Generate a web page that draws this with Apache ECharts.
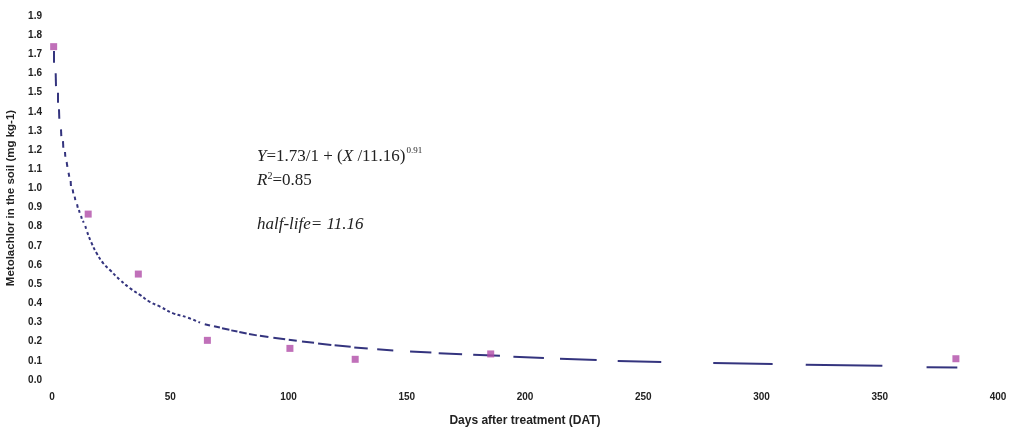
<!DOCTYPE html>
<html>
<head>
<meta charset="utf-8">
<script src="https://cdn.jsdelivr.net/npm/echarts@6/dist/echarts.min.js"></script>
<style>
html,body{margin:0;padding:0;background:#fff;}
#chart{width:1016px;height:428px;}
</style>
</head>
<body>
<div id="chart"></div>
<script>
// Observed data (days after treatment, mg kg-1)
const obsDays = [0.7, 15.3, 36.5, 65.7, 100.6, 128.2, 185.5, 382.2];
const obsValues = [1.74, 0.866, 0.553, 0.207, 0.165, 0.108, 0.136, 0.111];

// Fitted curve: head dashes [x1,y1,x2,y2]
const fitHeadDashes = [
  [0.55,1.717,0.55,1.656],[1.56,1.601,1.69,1.534],[2.24,1.499,2.41,1.447],
  [2.96,1.413,3.09,1.364],[3.81,1.308,3.93,1.273],[4.65,1.247,4.78,1.212],
  [5.50,1.190,5.62,1.165],[6.2,1.138,6.5,1.113],[7.0,1.082,7.3,1.061],
  [7.9,1.039,8.0,1.013],[8.75,0.995,9.0,0.974],[9.6,0.957,9.85,0.939],
  [10.6,0.917,10.9,0.899],[11.4,0.887,11.7,0.873],[12.3,0.856,12.6,0.842],
  [13.1,0.830,13.4,0.821],[14.1,0.804,14.4,0.790]
];
// Fitted curve middle part (dense short dashes)
const fitMidX = [14.9, 16.8, 18.9, 21.7, 24.5, 28.8, 33.0, 37.2, 41.4, 45.7, 51.3, 57.0, 62.6];
const fitMidY = [0.772, 0.713, 0.661, 0.609, 0.574, 0.522, 0.479, 0.444, 0.408, 0.383, 0.348, 0.327, 0.300];
// Fitted curve tail dashes [x1,y1,x2,y2]
const fitTailDashes = [
  [64.6,0.291,66.8,0.284],[68.5,0.281,71.0,0.274],[71.9,0.270,75.0,0.262],
  [75.8,0.259,78.4,0.253],[79.2,0.250,82.3,0.243],[83.3,0.240,86.6,0.233],
  [87.9,0.231,91.5,0.224],[93.6,0.221,98.6,0.213],[100.1,0.210,103.5,0.205],
  [105.7,0.201,110.8,0.194],[112.5,0.190,118.1,0.183],[119.5,0.181,126.3,0.173],
  [127.8,0.170,133.5,0.164],[137.5,0.160,144.3,0.154],[151.4,0.149,160.4,0.143],
  [163.5,0.140,173.4,0.134],[178.1,0.132,189.4,0.126],[195.1,0.121,208.0,0.115],
  [214.8,0.111,230.3,0.105],[239.2,0.099,257.6,0.094],[279.6,0.089,304.7,0.084],
  [318.7,0.080,351.1,0.075],[369.8,0.067,382.8,0.065]
];

const xTitle = 'Days after treatment (DAT)';
const yTitle = 'Metolachlor in the soil (mg kg-1)';

const lineColor = '#34347e';
const markColor = '#b04ca8';
const textColor = '#222';

const chart = echarts.init(document.getElementById('chart'), null, {renderer: 'canvas'});

const dashData = fitHeadDashes.concat(fitTailDashes).map(d => ({coords: [[d[0], d[1]], [d[2], d[3]]]}));

const serif = '"Liberation Serif", "Times New Roman", serif';

chart.setOption({
  animation: false,
  backgroundColor: '#fff',
  grid: {left: 52, right: 18, top: 16, bottom: 48, containLabel: false, outerBoundsMode: 'none'},
  xAxis: {
    type: 'value', min: 0, max: 400, interval: 50,
    axisLine: {show: false}, axisTick: {show: false}, splitLine: {show: false},
    axisLabel: {fontSize: 10, color: textColor, margin: 12, fontWeight: 'bold', fontFamily: 'Liberation Sans, Arial'},
    name: xTitle, nameLocation: 'middle', nameGap: 35,
    nameTextStyle: {fontSize: 12, fontWeight: 'bold', color: textColor, fontFamily: 'Liberation Sans, Arial'}
  },
  yAxis: {
    type: 'value', min: 0, max: 1.9, interval: 0.1,
    axisLine: {show: false}, axisTick: {show: false}, splitLine: {show: false},
    axisLabel: {fontSize: 10, color: textColor, margin: 10, fontWeight: 'bold', fontFamily: 'Liberation Sans, Arial',
      formatter: v => v.toFixed(1)},
    name: yTitle, nameLocation: 'middle', nameGap: 32,
    nameTextStyle: {fontSize: 11.5, fontWeight: 'bold', color: textColor, fontFamily: 'Liberation Sans, Arial'}
  },
  series: [
    {
      type: 'line', data: fitMidX.map((x, i) => [x, fitMidY[i]]), smooth: true,
      symbol: 'none', lineStyle: {color: lineColor, width: 2, type: [3, 2.5]}, z: 2
    },
    {
      type: 'lines', coordinateSystem: 'cartesian2d', data: dashData,
      lineStyle: {color: lineColor, width: 2, opacity: 1, type: 'solid'}, z: 2
    },
    {
      type: 'scatter', data: obsDays.map((x, i) => [x, obsValues[i]]),
      symbol: 'rect', symbolSize: 7, itemStyle: {color: markColor}, z: 3
    }
  ],
  graphic: [
    {
      type: 'text', left: 257, top: 146,
      style: {
        text: '{i|Y}{n|=1.73/1 + (}{i|X}{n| /11.16)}{s|0.91}',
        rich: {
          i: {fontFamily: serif, fontStyle: 'italic', fontSize: 17, fill: textColor},
          n: {fontFamily: serif, fontSize: 17, fill: textColor},
          s: {fontFamily: serif, fontSize: 9, fill: textColor, padding: [0, 0, 12, 1]}
        }
      }
    },
    {
      type: 'text', left: 257, top: 171,
      style: {
        text: '{i|R}{s|2}{n|=0.85}',
        rich: {
          i: {fontFamily: serif, fontStyle: 'italic', fontSize: 17, fill: textColor},
          n: {fontFamily: serif, fontSize: 17, fill: textColor},
          s: {fontFamily: serif, fontSize: 10, fill: textColor, padding: [0, 0, 9, 0]}
        }
      }
    },
    {
      type: 'text', left: 257, top: 216,
      style: {
        text: 'half-life= 11.16',
        font: 'italic 17px "Liberation Serif", "Times New Roman", serif',
        fill: textColor
      }
    }
  ]
});
</script>
</body>
</html>
